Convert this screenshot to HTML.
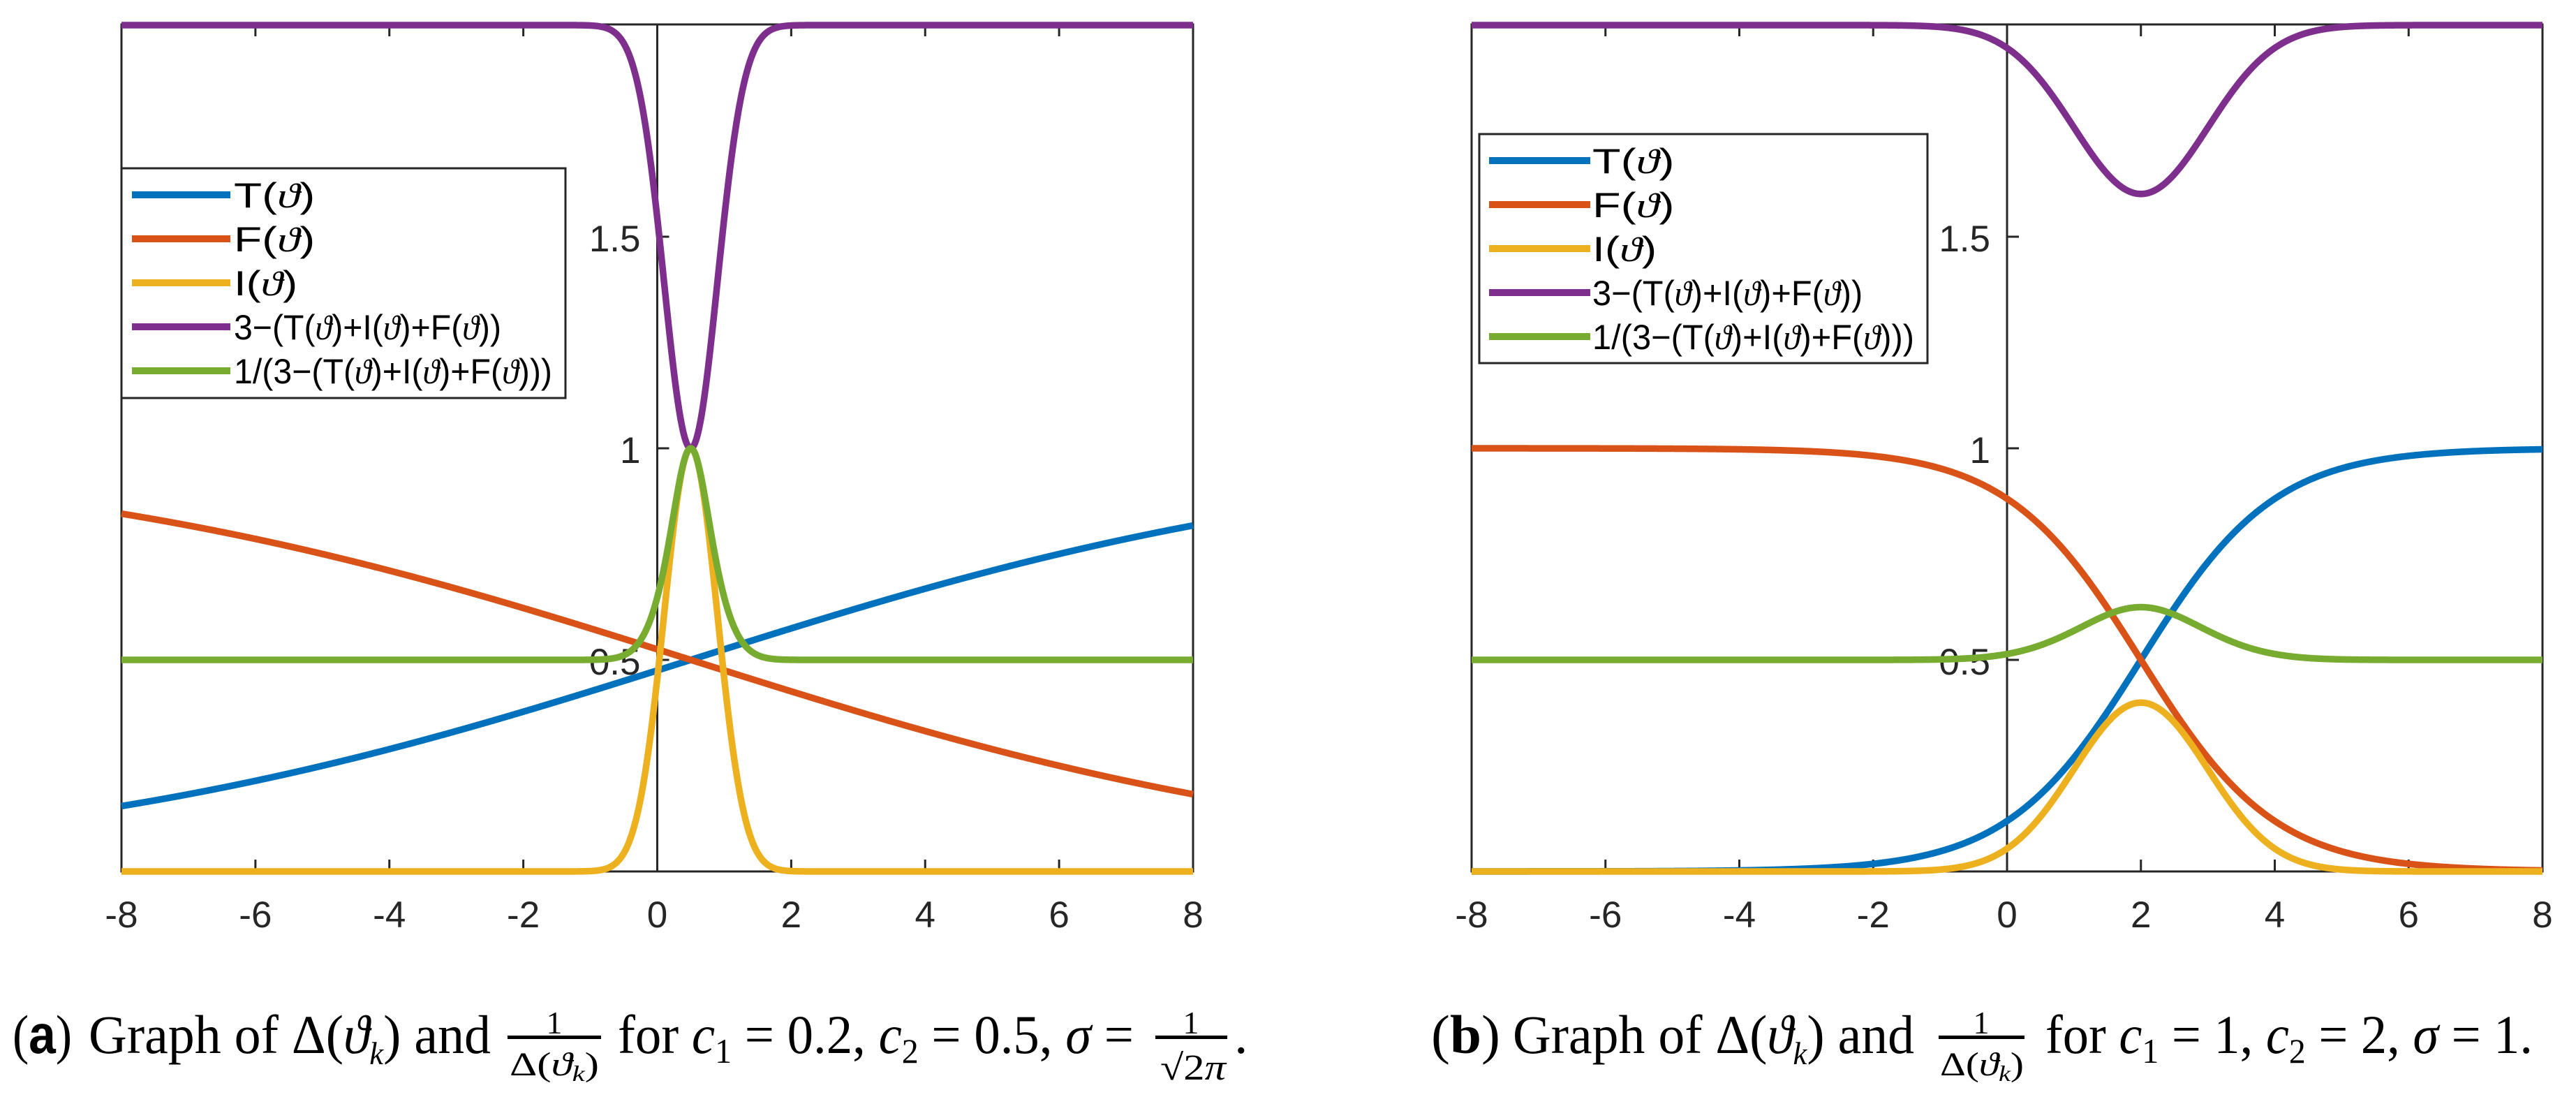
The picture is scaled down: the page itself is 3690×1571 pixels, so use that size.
<!DOCTYPE html>
<html><head><meta charset="utf-8">
<style>
html,body{margin:0;padding:0;background:#fff;}
svg{display:block;}
.tk{font-family:"Liberation Sans",sans-serif;font-size:53px;fill:#262626;}
.lg{font-family:"Liberation Sans",sans-serif;font-size:50px;fill:#000;}
.cp{font-family:"Liberation Serif",serif;font-size:78px;fill:#000;}
.it{font-style:italic;font-family:"Liberation Serif",serif;}
</style></head>
<body>
<svg id="s" width="3690" height="1571" viewBox="0 0 3690 1571" xmlns="http://www.w3.org/2000/svg">
<g id="plots"></g>
<g class="cp">
<text x="18" y="1508" textLength="85" lengthAdjust="spacingAndGlyphs">(<tspan font-weight="bold" font-family="Liberation Sans">a</tspan>)</text>
<text x="127" y="1508" textLength="576" lengthAdjust="spacingAndGlyphs">Graph of Δ(<tspan class="it">ϑ</tspan><tspan class="it" font-size="46" dy="16">k</tspan><tspan dy="-16">)</tspan> and</text>
<text x="794" y="1480" font-size="46" text-anchor="middle">1</text>
<rect x="727" y="1483" width="134" height="5" fill="#000"/>
<text x="730" y="1540" font-size="48" textLength="128" lengthAdjust="spacingAndGlyphs">Δ(<tspan class="it">ϑ</tspan><tspan class="it" font-size="32" dy="8">k</tspan><tspan dy="-8">)</tspan></text>
<text x="885" y="1508" textLength="739" lengthAdjust="spacingAndGlyphs">for <tspan class="it">c</tspan><tspan font-size="50" dy="14">1</tspan><tspan dy="-14"> = 0.2, </tspan><tspan class="it">c</tspan><tspan font-size="50" dy="14">2</tspan><tspan dy="-14"> = 0.5, </tspan><tspan class="it">σ</tspan> =</text>
<text x="1706" y="1480" font-size="46" text-anchor="middle">1</text>
<rect x="1655" y="1483" width="103" height="5" fill="#000"/>
<text x="1662" y="1546" font-size="52" textLength="94" lengthAdjust="spacingAndGlyphs">√2<tspan class="it">π</tspan></text>
<text x="1768" y="1508">.</text>

<text x="2050" y="1508" textLength="99" lengthAdjust="spacingAndGlyphs">(<tspan font-weight="bold">b</tspan>)</text>
<text x="2167" y="1508" textLength="575" lengthAdjust="spacingAndGlyphs">Graph of Δ(<tspan class="it">ϑ</tspan><tspan class="it" font-size="46" dy="16">k</tspan><tspan dy="-16">)</tspan> and</text>
<text x="2838" y="1480" font-size="46" text-anchor="middle">1</text>
<rect x="2777" y="1483" width="123" height="5" fill="#000"/>
<text x="2779" y="1540" font-size="48" textLength="120" lengthAdjust="spacingAndGlyphs">Δ(<tspan class="it">ϑ</tspan><tspan class="it" font-size="32" dy="8">k</tspan><tspan dy="-8">)</tspan></text>
<text x="2930" y="1508" textLength="698" lengthAdjust="spacingAndGlyphs">for <tspan class="it">c</tspan><tspan font-size="50" dy="14">1</tspan><tspan dy="-14"> = 1, </tspan><tspan class="it">c</tspan><tspan font-size="50" dy="14">2</tspan><tspan dy="-14"> = 2, </tspan><tspan class="it">σ</tspan> = 1.</text>
</g>
</svg>
<script>
(function(){
var NS="http://www.w3.org/2000/svg";
var g=document.getElementById("plots");
function el(t,a,txt){var e=document.createElementNS(NS,t);for(var k in a)e.setAttribute(k,a[k]);if(txt!==undefined)e.textContent=txt;g.appendChild(e);return e;}
var cols=["#0072BD","#D95319","#EDB120","#7E2F8E","#77AC30"];
var labels=["T(<i>)","F(<i>)","I(<i>)","3\u2212(T(<i>)+I(<i>)+F(<i>))","1/(3\u2212(T(<i>)+I(<i>)+F(<i>)))"];
function plot(L,R,c1,c2,sig,leg){
  var T=35,B=1248;
  var X=function(x){return L+(x+8)/16*(R-L);};
  var Y=function(y){return B-y*606;};
  var ax="#262626";
  el("rect",{x:L,y:T,width:R-L,height:B-T,fill:"none",stroke:ax,"stroke-width":3});
  var x0=X(0);
  el("line",{x1:x0,y1:T,x2:x0,y2:B,stroke:ax,"stroke-width":3});
  for(var v=-8;v<=8;v+=2){
    var xx=X(v);
    el("line",{x1:xx,y1:B,x2:xx,y2:B-17,stroke:ax,"stroke-width":3});
    el("line",{x1:xx,y1:T,x2:xx,y2:T+17,stroke:ax,"stroke-width":3});
    el("text",{x:xx,y:1328,"text-anchor":"middle","class":"tk"},(v<0?"-":"")+Math.abs(v));
  }
  [0.5,1,1.5].forEach(function(v){
    var yy=Y(v);
    el("line",{x1:x0,y1:yy,x2:x0+17,y2:yy,stroke:ax,"stroke-width":3});
    el("text",{x:x0-24,y:yy+21,"text-anchor":"end","class":"tk"},String(v));
  });
  var fns=[
    function(x){return 1/(1+Math.exp(-c1*(x-c2)));},
    function(x){return 1-1/(1+Math.exp(-c1*(x-c2)));},
    function(x){return Math.exp(-(x-c2)*(x-c2)/(2*sig*sig))/(sig*Math.sqrt(2*Math.PI));},
    null,null];
  fns[3]=function(x){return 3-(fns[0](x)+fns[1](x)+fns[2](x));};
  fns[4]=function(x){return 1/fns[3](x);};
  for(var i=0;i<5;i++){
    var d="";
    for(var k=0;k<=1600;k++){var x=-8+16*k/1600;d+=(k?"L":"M")+X(x).toFixed(2)+" "+Y(fns[i](x)).toFixed(2);}
    el("path",{d:d,fill:"none",stroke:cols[i],"stroke-width":9.5,"stroke-linejoin":"round"});
  }
  el("rect",{x:leg.x,y:leg.y,width:leg.w,height:leg.h,fill:"#fff",stroke:ax,"stroke-width":3});
  var widths=[leg.tw*0.255,leg.tw*0.255,leg.tw*0.2,leg.tw*0.84,leg.tw];
  for(var i=0;i<5;i++){
    var ry=leg.r0+i*63;
    el("line",{x1:leg.lx1,y1:ry,x2:leg.lx2,y2:ry,stroke:cols[i],"stroke-width":10});
    var t=document.createElementNS(NS,"text");
    t.setAttribute("x",leg.tx);t.setAttribute("y",ry+18);t.setAttribute("class","lg");
    t.setAttribute("textLength",widths[i]);t.setAttribute("lengthAdjust","spacingAndGlyphs");
    var parts=labels[i].split("<i>");
    parts.forEach(function(p,j){
      if(p){var s=document.createElementNS(NS,"tspan");s.textContent=p;t.appendChild(s);}
      if(j<parts.length-1){var s2=document.createElementNS(NS,"tspan");s2.setAttribute("font-style","italic");s2.setAttribute("font-family","Liberation Serif");s2.textContent="\u03D1";t.appendChild(s2);}
    });
    g.appendChild(t);
  }
}
plot(174,1709,0.2,0.5,1/Math.sqrt(2*Math.PI),{x:174,y:241,w:636,h:329,r0:279,lx1:189,lx2:330,tx:335,tw:456});
plot(2108,3642,1,2,1,{x:2119,y:192,w:642,h:328,r0:230,lx1:2133,lx2:2278,tx:2281,tw:461});
})();
</script>
</body></html>
